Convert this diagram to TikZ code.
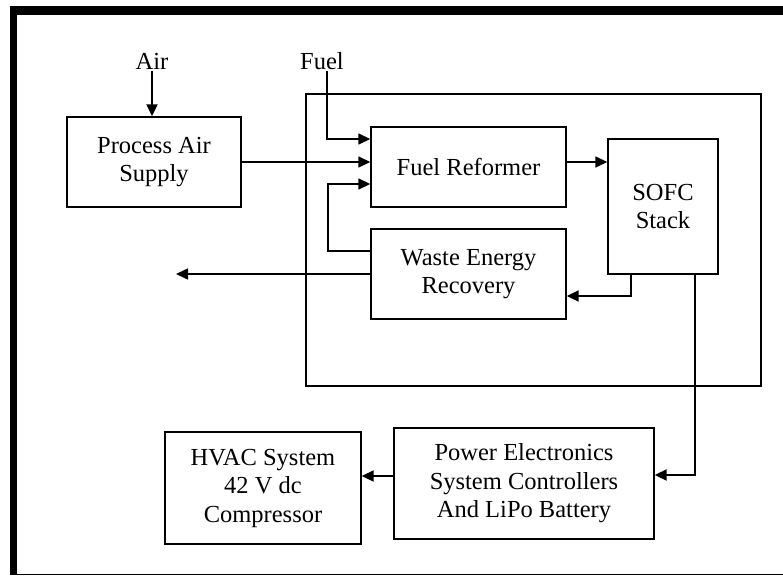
\documentclass[tikz,border=0pt]{standalone}
\usepackage{fontspec}
\setmainfont{Liberation Serif}
\usetikzlibrary{arrows.meta}
\begin{document}
\begin{tikzpicture}[x=1pt,y=-1pt,
  txt/.style={font=\fontsize{24.5}{28.5}\selectfont, align=center, inner sep=0pt},
  blk/.style={txt, draw, line width=1.4pt, minimum width=#1},
  arr/.style={line width=1.5pt, -{Triangle[length=12pt,width=11pt]}},
  thk/.style={line width=2pt, -{Triangle[length=12pt,width=11pt]}}]
\useasboundingbox (0,0) rectangle (783,575);
% frame
\fill[black] (10,6) rectangle (783,15);
\fill[black] (10,6) rectangle (17,575);
\draw[line width=1pt] (17,574) -- (783,574);
% system enclosure
\node[draw, line width=1.4pt, minimum width=455pt, minimum height=292pt, inner sep=0pt] (sys) at (533.5,240) {};
% blocks
\node[blk=174pt, minimum height=90pt] (pa) at (154,162) {Process Air\\Supply};
\node[blk=195pt, minimum height=80pt] (fr) at (468.5,167) {Fuel Reformer};
\node[blk=195pt, minimum height=90pt] (wer) at (468.5,274) {\raisebox{5pt}{\begin{tabular}{@{}c@{}}Waste Energy\\Recovery\end{tabular}}};
\node[blk=110pt, minimum height=135pt] (sofc) at (663,206.5) {SOFC\\Stack};
\node[blk=260pt, minimum height=111pt] (pe) at (524,483.5) {Power Electronics\\System Controllers\\And LiPo Battery};
\node[blk=196pt, minimum height=112pt] (hvac) at (263,488) {HVAC System\\42 V dc\\Compressor};
% labels
\node[txt, anchor=south] (air) at (152,70) {Air};
\node[txt, anchor=south] (fuel) at (322,70) {Fuel};
\coordinate (out) at (176,274);
\coordinate (loop) at (328,184);
% connectors
\draw[thk] ([yshift=-1pt]air.south) -- (air.south |- pa.north);
\draw[arr] ([xshift=5pt,yshift=-1pt]fuel.south) |- ([yshift=28pt]fr.west);
\draw[arr] (pa.east) -- (pa.east -| fr.west);
\draw[arr] ([yshift=23pt]wer.west) -| (loop) -- (loop -| fr.west);
\draw[arr] (wer.west) -- (out);
\draw[arr] ([yshift=5pt]fr.east) -- ([yshift=5pt]fr.east -| sofc.west);
\draw[thk] ([xshift=-32pt]sofc.south) |- ([yshift=-22pt]wer.east);
\draw[thk] ([xshift=32pt]sofc.south) |- ([yshift=8.5pt]pe.east);
\draw[thk] ([yshift=7.5pt]pe.west) -- ([yshift=7.5pt]pe.west -| hvac.east);
\end{tikzpicture}
\end{document}
